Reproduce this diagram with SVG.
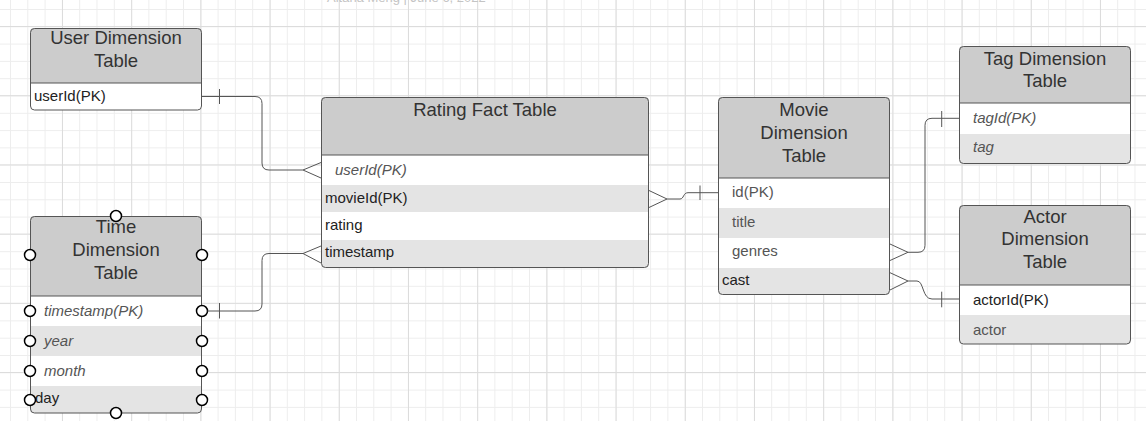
<svg xmlns="http://www.w3.org/2000/svg" width="1146" height="421" viewBox="0 0 1146 421">
<defs>
<pattern id="minor" x="10" y="9" width="17.3" height="17.3" patternUnits="userSpaceOnUse"><path d="M0 0.5H17.3M0.5 0V17.3" stroke="#ededed" stroke-width="1" fill="none"/></pattern>
<pattern id="major" x="62" y="26" width="69.2" height="69.2" patternUnits="userSpaceOnUse"><path d="M0 0.5H69.2M0.5 0V69.2" stroke="#dcdcdc" stroke-width="1" fill="none"/></pattern>
<style>
text{font-family:"Liberation Sans",Arial,sans-serif}
.hdr{fill:#cccccc}
.alt{fill:#e4e4e4}
.body{fill:#ffffff}
.frame{fill:none;stroke:#555;stroke-width:1}
.div{stroke:#555;stroke-width:1.2}
.title{font-size:18.5px;fill:#333;text-anchor:middle}
.row{font-size:15px;fill:#222}
.rowg{font-size:15px;fill:#555}
.it{font-style:italic}
.con{fill:none;stroke:#555;stroke-width:1}
.h{fill:#fff;stroke:#000;stroke-width:1.5}
</style>
</defs>
<rect width="1146" height="421" fill="#fff"/>
<rect width="1146" height="421" fill="url(#minor)"/>
<rect width="1146" height="421" fill="url(#major)"/>
<text x="327" y="1.5" style="font-size:13px;fill:#c4c4c4">Aitana Meng  |  June 6, 2022</text>

<g id="user-dimension">
<rect class="body" x="30" y="28" width="172" height="82" rx="4"/>
<path class="hdr" d="M30,83V32Q30,28 34,28H198Q202,28 202,32V83Z"/>
<line class="div" x1="30" y1="83" x2="202" y2="83"/>
<rect class="frame" x="30.5" y="28.5" width="171" height="81.5" rx="4"/>
<text class="title" x="116" y="44">User Dimension</text>
<text class="title" x="116" y="67">Table</text>
<text class="row" x="34" y="101">userId(PK)</text>
</g>

<g id="rating-fact">
<rect class="body" x="321" y="97" width="328" height="171" rx="4"/>
<path class="hdr" d="M321,155V101Q321,97 325,97H645Q649,97 649,101V155Z"/>
<rect class="alt" x="321" y="185" width="328" height="27"/>
<path class="alt" d="M321,240H649V264Q649,268 645,268H325Q321,268 321,264Z"/>
<line class="div" x1="321" y1="155" x2="649" y2="155"/>
<rect class="frame" x="321.5" y="97.5" width="327" height="170" rx="4"/>
<text class="title" x="485" y="116">Rating Fact Table</text>
<text class="rowg it" x="335" y="175">userId(PK)</text>
<text class="row" x="325" y="203">movieId(PK)</text>
<text class="row" x="325" y="230">rating</text>
<text class="row" x="325" y="257">timestamp</text>
</g>

<g id="movie-dimension">
<rect class="body" x="718" y="97" width="172" height="198" rx="4"/>
<path class="hdr" d="M718,178V101Q718,97 722,97H886Q890,97 890,101V178Z"/>
<rect class="alt" x="718" y="208" width="172" height="30"/>
<path class="alt" d="M718,268H890V291Q890,295 886,295H722Q718,295 718,291Z"/>
<line class="div" x1="718" y1="178" x2="890" y2="178"/>
<rect class="frame" x="718.5" y="97.5" width="171" height="197" rx="4"/>
<text class="title" x="804" y="116">Movie</text>
<text class="title" x="804" y="139">Dimension</text>
<text class="title" x="804" y="162">Table</text>
<text class="rowg" x="732" y="197">id(PK)</text>
<text class="rowg" x="732" y="227">title</text>
<text class="rowg" x="732" y="256">genres</text>
<text class="row" x="722" y="285">cast</text>
</g>

<g id="tag-dimension">
<rect class="body" x="959" y="46" width="172" height="118" rx="4"/>
<path class="hdr" d="M959,103V50Q959,46 963,46H1127Q1131,46 1131,50V103Z"/>
<path class="alt" d="M959,134H1131V160Q1131,164 1127,164H963Q959,164 959,160Z"/>
<line class="div" x1="959" y1="103" x2="1131" y2="103"/>
<rect class="frame" x="959.5" y="46.5" width="171" height="117" rx="4"/>
<text class="title" x="1045" y="65">Tag Dimension</text>
<text class="title" x="1045" y="87">Table</text>
<text class="rowg it" x="973" y="123">tagId(PK)</text>
<text class="rowg it" x="973" y="152">tag</text>
</g>

<g id="actor-dimension">
<rect class="body" x="959" y="205" width="172" height="139" rx="4"/>
<path class="hdr" d="M959,285V209Q959,205 963,205H1127Q1131,205 1131,209V285Z"/>
<path class="alt" d="M959,315H1131V340Q1131,344 1127,344H963Q959,344 959,340Z"/>
<line class="div" x1="959" y1="285" x2="1131" y2="285"/>
<rect class="frame" x="959.5" y="205.5" width="171" height="138.5" rx="4"/>
<text class="title" x="1045" y="223">Actor</text>
<text class="title" x="1045" y="245">Dimension</text>
<text class="title" x="1045" y="268">Table</text>
<text class="row" x="973" y="305">actorId(PK)</text>
<text class="rowg" x="973" y="335">actor</text>
</g>

<g id="time-dimension">
<rect class="body" x="30" y="216" width="172" height="197" rx="4"/>
<path class="hdr" d="M30,296V220Q30,216 34,216H198Q202,216 202,220V296Z"/>
<rect class="alt" x="30" y="326" width="172" height="30"/>
<path class="alt" d="M30,386H202V409Q202,413 198,413H34Q30,413 30,409Z"/>
<line class="div" x1="30" y1="296" x2="202" y2="296"/>
<rect class="frame" x="30.5" y="216.5" width="171" height="196.5" rx="4"/>
<text class="title" x="116" y="233">Time</text>
<text class="title" x="116" y="256">Dimension</text>
<text class="title" x="116" y="279">Table</text>
<text class="rowg it" x="44" y="316">timestamp(PK)</text>
<text class="rowg it" x="44" y="346">year</text>
<text class="rowg it" x="44" y="376">month</text>
<text class="row" x="35" y="403">day</text>
<circle class="h" cx="116" cy="216" r="5.5"/>
<circle class="h" cx="116" cy="413" r="5.5"/>
<circle class="h" cx="30" cy="255" r="5.5"/>
<circle class="h" cx="202" cy="255" r="5.5"/>
<circle class="h" cx="30" cy="311" r="5.5"/>
<circle class="h" cx="202" cy="311" r="5.5"/>
<circle class="h" cx="30" cy="341" r="5.5"/>
<circle class="h" cx="202" cy="341" r="5.5"/>
<circle class="h" cx="30" cy="371" r="5.5"/>
<circle class="h" cx="202" cy="371" r="5.5"/>
<circle class="h" cx="30" cy="400" r="5.5"/>
<circle class="h" cx="202" cy="400" r="5.5"/>
</g>

<g id="connectors">
<path class="con" d="M202,96.5H255Q262,96.5 262,103.5V163Q262,170 269,170H303"/>
<path class="con" d="M219.5,89V104"/>
<path class="con" d="M321,162.5L303,170L321,178"/>

<path class="con" d="M207.5,311H255Q262,311 262,304V260.5Q262,253.5 269,253.5H303"/>
<path class="con" d="M219.5,303V318.5"/>
<path class="con" d="M321,246L303,253.5L321,263"/>

<path class="con" d="M649,190.5L667,199L649,207.5"/>
<path class="con" d="M667,199H680C684,199 683,192.7 688,192.7H718"/>
<path class="con" d="M700,185.5V200"/>

<path class="con" d="M890,244L908,252.3L890,260.5"/>
<path class="con" d="M908,252.3H918Q925,252.3 925,245.3V125.3Q925,118.3 932,118.3H959"/>
<path class="con" d="M941.7,111V127"/>

<path class="con" d="M890,272.7L908,281L890,290"/>
<path class="con" d="M908,281H917C924,281 922,299 932,299H959"/>
<path class="con" d="M941.7,291.7V307.3"/>
</g>
</svg>
